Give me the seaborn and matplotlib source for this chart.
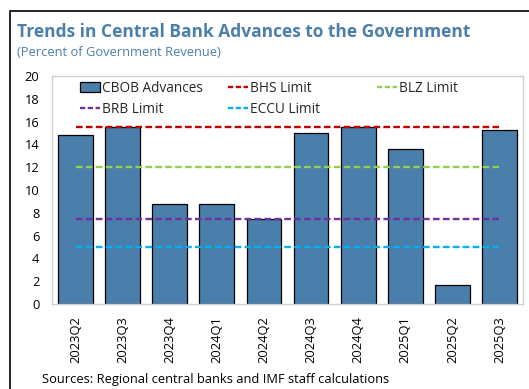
import matplotlib
matplotlib.use("Agg")
import matplotlib.pyplot as plt
import seaborn as sns
import pandas as pd
from matplotlib.patches import Patch, Rectangle
from matplotlib.lines import Line2D

quarters = ["2023Q2", "2023Q3", "2023Q4", "2024Q1", "2024Q2",
            "2024Q3", "2024Q4", "2025Q1", "2025Q2", "2025Q3"]
cbob_advances = [14.8, 15.55, 8.8, 8.8, 7.45, 15.0, 15.5, 13.6, 1.65, 15.25]
limit_names = ["BHS Limit", "BLZ Limit", "BRB Limit", "ECCU Limit"]
limit_values = [15.5, 12.0, 7.5, 5.0]
limit_colors = ["#C00000", "#92D050", "#7030A0", "#00B0F0"]

BAR_COLOR = "#4A7EAB"
DASH = (0, (2.8, 1.4))

sns.set_theme(style="white")
plt.rcParams["font.family"] = ["Open Sans", "DejaVu Sans"]

W, H = 529, 389
fig = plt.figure(figsize=(W / 100, H / 100), dpi=100)
ax = fig.add_axes([52 / W, 1 - 304 / H, 471 / W, 228 / H])

df = pd.DataFrame({"quarter": quarters, "value": cbob_advances})
sns.barplot(data=df, x="quarter", y="value", ax=ax, color=BAR_COLOR,
            saturation=1, width=0.74, edgecolor="black", linewidth=0.9, zorder=2)

n = len(quarters)
for name, val, col in zip(limit_names, limit_values, limit_colors):
    ax.hlines(val, 0, n - 1, colors=col, linestyles=DASH, linewidth=1.7, zorder=3)

ax.set_xlim(-0.5, n - 0.5)
ax.set_ylim(0, 20)
ax.set_yticks(range(0, 21, 2))
ax.set_xticks(range(n))
ax.set_xlabel("")
ax.set_ylabel("")
ax.tick_params(axis="y", labelsize=9.3, length=0, pad=9, colors="black")
ax.tick_params(axis="x", labelsize=9.3, length=0, pad=9, colors="black", rotation=90)
ax.set_xticks([i + 0.5 for i in range(n - 1)], minor=True)
ax.tick_params(axis="x", which="minor", length=3, color="#C8C8C8", width=0.8, direction="out")
for s in ax.spines.values():
    s.set_color("#D0D0D0")
    s.set_linewidth(1.0)

def make_handle(kind, idx=None):
    if kind == "bar":
        return Patch(facecolor=BAR_COLOR, edgecolor="black", linewidth=0.9, label="CBOB Advances")
    return Line2D([], [], color=limit_colors[idx], ls=(0, (2.2, 1.1)), lw=1.7, label=limit_names[idx])

columns = [
    (80, [make_handle("bar"), make_handle("line", 2)]),
    (228, [make_handle("line", 0), make_handle("line", 3)]),
    (377, [make_handle("line", 1)]),
]
legs = []
for xpos, hs in columns:
    leg = fig.legend(handles=hs, loc="upper left", bbox_to_anchor=(xpos / W, 1 - 81 / H),
                     frameon=False, fontsize=9.8, handlelength=1.47, handletextpad=0.15,
                     labelspacing=0.42, borderpad=0, borderaxespad=0)
    legs.append(leg)

fig.text(17 / W, 1 - 32 / H, "Trends in Central Bank Advances to the Government",
         fontsize=12.5, fontweight="bold", color=BAR_COLOR, va="center", ha="left")
fig.text(17 / W, 1 - 52 / H, "(Percent of Government Revenue)",
         fontsize=9.3, color=BAR_COLOR, va="center", ha="left")
fig.text(42 / W, 1 - 380 / H, "Sources: Regional central banks and IMF staff calculations",
         fontsize=9.3, color="black", va="center", ha="left")

fig.add_artist(Rectangle((10 / W, -0.1), 1.2, 1 - 11 / H + 0.1, transform=fig.transFigure,
                         fill=False, edgecolor="black", linewidth=1.2))

fig.savefig("out.png", dpi=100)
